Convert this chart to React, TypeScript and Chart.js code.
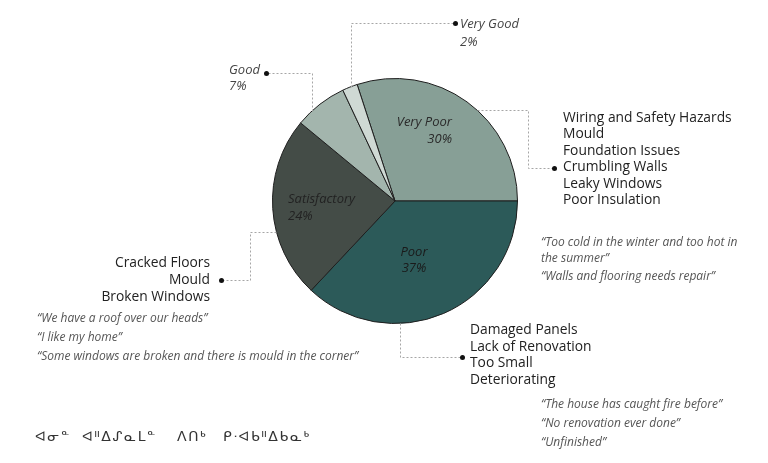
import React, { useEffect, useRef } from "react";
import { Chart, registerables } from "chart.js";

Chart.register(...registerables);

const categories = ["Very Poor", "Poor", "Satisfactory", "Good", "Very Good"];
const percentages = [30, 37, 24, 7, 2];
const sliceColors = ["#879f96", "#2c5a59", "#444c47", "#a3b5ad", "#cfd9d4"];

const veryPoorIssues = [
  "Wiring and Safety Hazards",
  "Mould",
  "Foundation Issues",
  "Crumbling Walls",
  "Leaky Windows",
  "Poor Insulation",
];
const veryPoorQuotes = [
  "\u201CToo cold in the winter and too hot in",
  "the summer\u201D",
  "\u201CWalls and flooring needs repair\u201D",
];
const satisfactoryIssues = ["Cracked Floors", "Mould", "Broken Windows"];
const satisfactoryQuotes = [
  "\u201CWe have a roof over our heads\u201D",
  "\u201CI like my home\u201D",
  "\u201CSome windows are broken and there is mould in the corner\u201D",
];
const poorIssues = ["Damaged Panels", "Lack of Renovation", "Too Small", "Deteriorating"];
const poorQuotes = [
  "\u201CThe house has caught fire before\u201D",
  "\u201CNo renovation ever done\u201D",
  "\u201CUnfinished\u201D",
];
const footerWords = ["ᐊᓂᓐ", "ᐊᐦᐃᔑᓇᒪᓐ", "ᐱᑎᒃ", "ᑭᐧᐊᑲᐦᐃᑲᓇᒃ"];

const SANS = "'Open Sans', 'Noto Sans', sans-serif";

const annotPlugin = {
  id: "annot",
  afterDraw(chart: any) {
    const ctx: CanvasRenderingContext2D = chart.ctx;
    const arc = chart.getDatasetMeta(0).data[0];
    const { x: cx, y: cy, outerRadius: r } = arc.getProps(["x", "y", "outerRadius"], true);
    const edgeX = (y: number, side: number) => cx + side * Math.sqrt(Math.max(0, r * r - (y - cy) ** 2));
    const edgeY = (x: number, side: number) => cy + side * Math.sqrt(Math.max(0, r * r - (x - cx) ** 2));

    ctx.save();
    const poly = (pts: number[][]) => {
      ctx.save();
      ctx.strokeStyle = "#a6a6a6";
      ctx.lineWidth = 1;
      ctx.setLineDash([2, 2]);
      ctx.beginPath();
      pts.forEach((p, i) => {
        const px = Math.round(p[0]) + 0.5;
        const py = Math.round(p[1]) + 0.5;
        if (i === 0) ctx.moveTo(px, py);
        else ctx.lineTo(px, py);
      });
      ctx.stroke();
      ctx.restore();
    };
    const dot = (x: number, y: number) => {
      ctx.save();
      ctx.fillStyle = "#111";
      ctx.beginPath();
      ctx.arc(x + 0.5, y + 0.5, 2.5, 0, Math.PI * 2);
      ctx.fill();
      ctx.restore();
    };
    const text = (
      s: string,
      x: number,
      y: number,
      font: string,
      color: string,
      align: CanvasTextAlign = "left",
      spacing = "0px"
    ) => {
      ctx.font = font;
      ctx.fillStyle = color;
      ctx.textAlign = align;
      ctx.textBaseline = "middle";
      (ctx as any).letterSpacing = spacing;
      ctx.fillText(s, x, y);
      (ctx as any).letterSpacing = "0px";
    };

    // leader lines
    poly([[351, edgeY(351, -1)], [351, 23], [455, 23]]);
    dot(455, 23);
    poly([[312, edgeY(312, -1)], [312, 73], [266, 73]]);
    dot(266, 73);
    poly([[edgeX(110, 1), 110], [528, 110], [528, 168], [554, 168]]);
    dot(554, 168);
    poly([[edgeX(232, -1), 232], [250, 232], [250, 280], [221, 280]]);
    dot(221, 280);
    poly([[400, edgeY(400, 1)], [400, 357], [462, 357]]);
    dot(462, 357);

    const labelFont = `italic 13px ${SANS}`;
    const listFont = `13.8px ${SANS}`;
    const quoteFont = `italic 12px ${SANS}`;

    // slice labels inside
    text(categories[0], 452, 122, labelFont, "#2a2a2a", "right");
    text(percentages[0] + "%", 452, 139, labelFont, "#2a2a2a", "right");
    text(categories[2], 288, 199, labelFont, "#222", "left");
    text(percentages[2] + "%", 288, 216, labelFont, "#222", "left");
    text(categories[1], 414, 252, labelFont, "#1a1a1a", "center");
    text(percentages[1] + "%", 414, 268, labelFont, "#1a1a1a", "center");

    // outside labels
    text(categories[4], 460, 24, labelFont, "#444", "left");
    text(percentages[4] + "%", 460, 42, labelFont, "#444", "left");
    text(categories[3], 229, 70, labelFont, "#444", "left");
    text(percentages[3] + "%", 229, 86, labelFont, "#444", "left");

    // issues lists
    veryPoorIssues.forEach((s, i) => text(s, 563, 118 + i * 16.4, listFont, "#222", "left"));
    satisfactoryIssues.forEach((s, i) => text(s, 210, 263 + i * 17, listFont, "#222", "right"));
    poorIssues.forEach((s, i) => text(s, 470, 330 + i * 16.7, listFont, "#222", "left"));

    // quotes
    text(veryPoorQuotes[0], 541, 243, quoteFont, "#555", "left");
    text(veryPoorQuotes[1], 541, 259, quoteFont, "#555", "left");
    text(veryPoorQuotes[2], 541, 277, quoteFont, "#555", "left");
    satisfactoryQuotes.forEach((s, i) => text(s, 37, 319 + i * 19, quoteFont, "#555", "left"));
    poorQuotes.forEach((s, i) => text(s, 541, 405 + i * 19, quoteFont, "#555", "left"));

    // footer syllabics
    const footerX = [35, 82, 177, 223];
    footerWords.forEach((w, i) =>
      text(w, footerX[i], 437, "14px 'DejaVu Sans', sans-serif", "#333", "left", "1.6px")
    );

    ctx.restore();
  },
};

export default function App() {
  const ref = useRef<HTMLCanvasElement | null>(null);
  useEffect(() => {
    if (!ref.current) return;
    const chart = new Chart(ref.current, {
      type: "pie",
      data: {
        labels: categories,
        datasets: [
          {
            data: percentages,
            backgroundColor: sliceColors,
            borderColor: "#1e1e1e",
            borderWidth: 1,
          },
        ],
      },
      options: {
        responsive: false,
        animation: false,
        rotation: -18,
        layout: { padding: { left: 272, right: 250, top: 78, bottom: 139 } },
        plugins: { legend: { display: false }, tooltip: { enabled: false } },
      },
      plugins: [annotPlugin],
    });
    return () => chart.destroy();
  }, []);
  return (
    <div style={{ position: "absolute", left: 0, top: 0, width: 768, height: 463, background: "#fff" }}>
      <canvas ref={ref} width={768} height={463} style={{ display: "block" }} />
    </div>
  );
}
